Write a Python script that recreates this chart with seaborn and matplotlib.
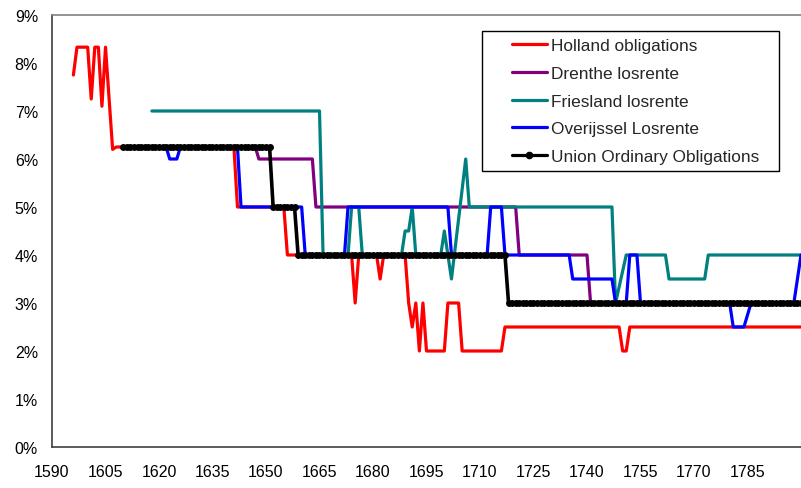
import numpy as np
import pandas as pd
import matplotlib
matplotlib.use("Agg")
import matplotlib.pyplot as plt
import seaborn as sns
from matplotlib.patches import Rectangle
from matplotlib.lines import Line2D

# ---------------- data (rates in %) ----------------
holland_years = [1596, 1597, 1600, 1601, 1602, 1603, 1604, 1605, 1607, 1608, 1641, 1642,
                 1655, 1656, 1674, 1675, 1676, 1681, 1682, 1683, 1689, 1690, 1691, 1692,
                 1693, 1694, 1695, 1700, 1701, 1704, 1705, 1716, 1717, 1749, 1750, 1751,
                 1752, 1800]
holland_values = [7.75, 8.33, 8.33, 7.25, 8.33, 8.33, 7.1, 8.33, 6.2, 6.25, 6.25, 5.0,
                  5.0, 4.0, 4.0, 3.0, 4.0, 4.0, 3.5, 4.0, 4.0, 3.0, 2.5, 3.0,
                  2.0, 3.0, 2.0, 2.0, 3.0, 3.0, 2.0, 2.0, 2.5, 2.5, 2.0, 2.0,
                  2.5, 2.5]

drenthe_years = [1640, 1647, 1648, 1663, 1664, 1720, 1721, 1740, 1741, 1800]
drenthe_values = [6.25, 6.25, 6.0, 6.0, 5.0, 5.0, 4.0, 4.0, 3.0, 3.0]

friesland_years = [1618, 1665, 1666, 1673, 1674, 1676, 1677, 1688, 1689, 1690, 1691, 1692,
                   1699, 1700, 1702, 1706, 1707, 1747, 1748, 1751, 1762, 1763, 1773, 1774,
                   1800]
friesland_values = [7.0, 7.0, 4.0, 4.0, 5.0, 5.0, 4.0, 4.0, 4.5, 4.5, 5.0, 4.0,
                    4.0, 4.5, 3.5, 6.0, 5.0, 5.0, 3.0, 4.0, 4.0, 3.5, 3.5, 4.0,
                    4.0]

overijssel_years = [1610, 1622, 1623, 1625, 1626, 1642, 1643, 1660, 1661, 1672, 1673,
                    1701, 1702, 1712, 1713, 1716, 1717, 1735, 1736, 1747, 1748, 1751,
                    1752, 1754, 1755, 1780, 1781, 1784, 1786, 1798, 1800]
overijssel_values = [6.25, 6.25, 6.0, 6.0, 6.25, 6.25, 5.0, 5.0, 4.0, 4.0, 5.0,
                     5.0, 4.0, 4.0, 5.0, 5.0, 4.0, 4.0, 3.5, 3.5, 3.0, 3.0,
                     4.0, 4.0, 3.0, 3.0, 2.5, 2.5, 3.0, 3.0, 4.0]

# Union ordinary obligations: yearly observations 1610-1800, given as runs
union_first_year = 1610
union_levels = [6.25, 5.0, 4.0, 3.0]
union_run_lengths = [42, 7, 59, 83]

x_tick_years = [1590, 1605, 1620, 1635, 1650, 1665, 1680, 1695, 1710, 1725, 1740, 1755, 1770, 1785]
y_tick_values = [0, 1, 2, 3, 4, 5, 6, 7, 8, 9]

series_names = ["Holland obligations", "Drenthe losrente", "Friesland losrente",
                "Overijssel Losrente", "Union Ordinary Obligations"]
series_colors = ["#FF0000", "#800080", "#008080", "#0000FF", "#000000"]

# ---------------- build frames ----------------
union_values = np.repeat(union_levels, union_run_lengths)
union_years = np.arange(union_first_year, union_first_year + len(union_values))

frames = [
    pd.DataFrame({"year": holland_years, "rate": holland_values}),
    pd.DataFrame({"year": drenthe_years, "rate": drenthe_values}),
    pd.DataFrame({"year": friesland_years, "rate": friesland_values}),
    pd.DataFrame({"year": overijssel_years, "rate": overijssel_values}),
    pd.DataFrame({"year": union_years, "rate": union_values}),
]

# ---------------- plot ----------------
sns.set_style("white")
plt.rcParams["font.family"] = ["Liberation Sans", "DejaVu Sans"]

W, H = 801, 489
fig = plt.figure(figsize=(W / 100, H / 100), dpi=100)
ax_l, ax_r, ax_t, ax_b = 52, 801, 16, 448
ax = fig.add_axes([ax_l / W, 1 - ax_b / H, (ax_r - ax_l) / W, (ax_b - ax_t) / H])

lw = 2.3
for i, (df, name, col) in enumerate(zip(frames, series_names, series_colors)):
    kw = {}
    if i == 4:
        kw = dict(marker="o", markersize=5.0, markeredgewidth=0, markerfacecolor=col)
    sns.lineplot(data=df, x="year", y="rate", color=col,
                 linewidth=(2.6 if i == 4 else lw), ax=ax,
                 legend=False, zorder=2 + i, clip_on=False if i == 4 else True, **kw)

ax.set_xlim(1590, 1800)
ax.set_ylim(0, 9)
ax.set_xticks(x_tick_years)
ax.set_xticklabels([str(y) for y in x_tick_years])
ax.set_yticks(y_tick_values)
ax.set_yticklabels([f"{v}%" for v in y_tick_values])
ax.set_xlabel("")
ax.set_ylabel("")
ax.grid(False)

for s in ["left", "bottom"]:
    ax.spines[s].set_color("#404040")
    ax.spines[s].set_linewidth(1.2)
ax.spines["top"].set_color("#808080")
ax.spines["top"].set_linewidth(1.2)
ax.spines["right"].set_visible(False)

ax.tick_params(axis="both", direction="out", length=6, width=1.1, color="#404040",
               labelsize=11.5, labelcolor="black")
ax.tick_params(axis="x", pad=6)
ax.tick_params(axis="y", pad=4)

# legend box
lx0, lx1, ly0, ly1 = 481.7, 779, 31.7, 171.7
rect = Rectangle((lx0 / W, 1 - ly1 / H), (lx1 - lx0) / W, (ly1 - ly0) / H,
                 transform=fig.transFigure, facecolor="white", edgecolor="black",
                 linewidth=1.0, zorder=20)
fig.patches.append(rect)

handles = []
for i, col in enumerate(series_colors):
    if i == 4:
        handles.append(Line2D([], [], color=col, linewidth=lw, marker="o", markersize=5.5,
                              markeredgewidth=0))
    else:
        handles.append(Line2D([], [], color=col, linewidth=lw))
leg = fig.legend(handles, series_names, loc="upper left",
                 bbox_to_anchor=(511.7 / W, 1 - 39.0 / H), bbox_transform=fig.transFigure,
                 frameon=False, borderpad=0, borderaxespad=0, fontsize=12.4,
                 handlelength=2.05, handletextpad=0.25, labelspacing=0.74, numpoints=1)
leg.set_zorder(30)

fig.savefig("out.png", dpi=100)
